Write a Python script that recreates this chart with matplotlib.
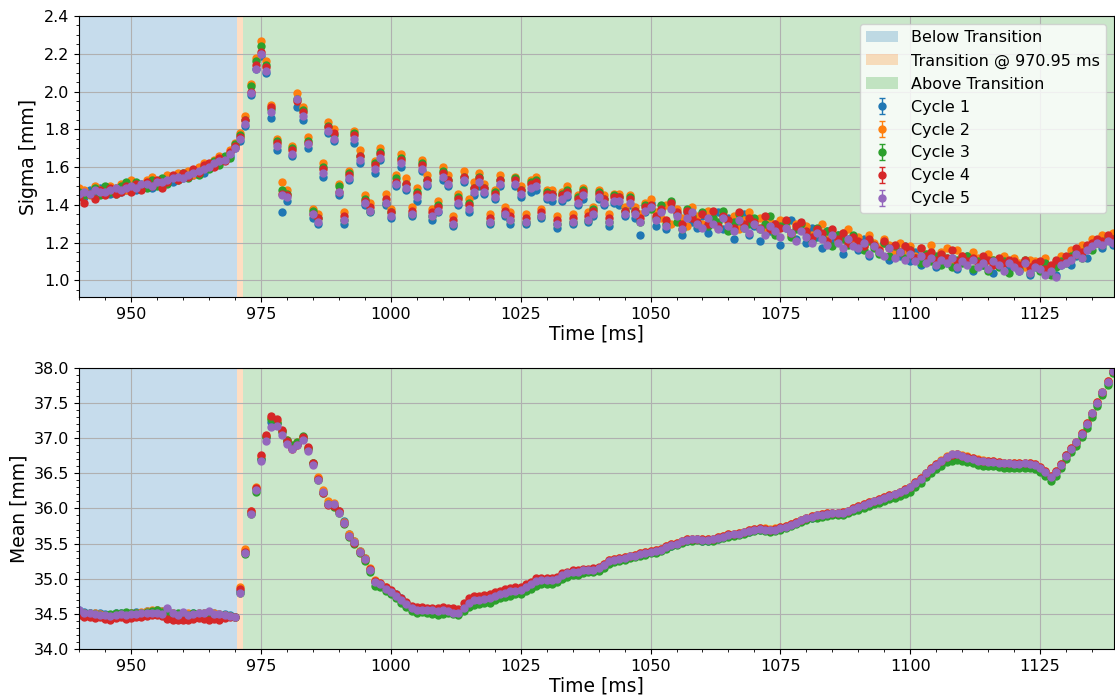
import numpy as np
import matplotlib.pyplot as plt
from matplotlib.ticker import MultipleLocator, AutoMinorLocator

# sample times [ms], one per ms
time_ms = np.arange(940.0, 1140.0, 1.0)
transition_ms = 970.95

cycle_labels = ["Cycle 1", "Cycle 2", "Cycle 3", "Cycle 4", "Cycle 5"]
sigma_err = 0.01
mean_err = 0.02

# Sigma [mm] per cycle
sigma_c1 = [
    1.45, 1.44, 1.48, 1.46, 1.49, 1.47, 1.46, 1.49, 1.47, 1.48,
    1.49, 1.48, 1.51, 1.50, 1.49, 1.51, 1.53, 1.52, 1.52, 1.54,
    1.54, 1.55, 1.56, 1.58, 1.57, 1.60, 1.61, 1.62, 1.64, 1.66,
    1.70, 1.74, 1.82, 1.98, 2.12, 2.19, 2.10, 1.86, 1.69, 1.36,
    1.42, 1.66, 1.92, 1.85, 1.70, 1.33, 1.30, 1.55, 1.78, 1.74,
    1.45, 1.30, 1.53, 1.73, 1.62, 1.40, 1.36, 1.57, 1.64, 1.40,
    1.33, 1.50, 1.60, 1.48, 1.34, 1.42, 1.58, 1.50, 1.32, 1.36,
    1.53, 1.50, 1.29, 1.40, 1.52, 1.36, 1.45, 1.50, 1.46, 1.30,
    1.43, 1.50, 1.34, 1.30, 1.50, 1.44, 1.30, 1.47, 1.48, 1.33,
    1.43, 1.42, 1.28, 1.42, 1.44, 1.30, 1.40, 1.43, 1.31, 1.34,
    1.43, 1.40, 1.29, 1.41, 1.40, 1.34, 1.40, 1.33, 1.24, 1.36,
    1.41, 1.29, 1.37, 1.27, 1.39, 1.35, 1.24, 1.36, 1.31, 1.28,
    1.34, 1.25, 1.31, 1.36, 1.27, 1.33, 1.22, 1.30, 1.35, 1.24,
    1.29, 1.21, 1.33, 1.26, 1.30, 1.19, 1.28, 1.32, 1.22, 1.27,
    1.20, 1.28, 1.23, 1.17, 1.26, 1.21, 1.24, 1.14, 1.22, 1.19,
    1.16, 1.22, 1.13, 1.19, 1.15, 1.20, 1.11, 1.17, 1.13, 1.18,
    1.10, 1.15, 1.08, 1.13, 1.11, 1.07, 1.14, 1.09, 1.12, 1.06,
    1.10, 1.13, 1.05, 1.11, 1.08, 1.12, 1.04, 1.09, 1.11, 1.06,
    1.08, 1.05, 1.10, 1.03, 1.07, 1.09, 1.04, 1.06, 1.03, 1.08,
    1.10, 1.08, 1.13, 1.15, 1.12, 1.18, 1.20, 1.17, 1.22, 1.19,
]
sigma_c2 = [
    1.49, 1.48, 1.45, 1.50, 1.48, 1.46, 1.50, 1.49, 1.51, 1.48,
    1.53, 1.51, 1.49, 1.53, 1.55, 1.52, 1.51, 1.56, 1.55, 1.57,
    1.56, 1.58, 1.56, 1.60, 1.62, 1.60, 1.64, 1.66, 1.64, 1.69,
    1.73, 1.78, 1.87, 2.04, 2.18, 2.27, 2.16, 1.93, 1.75, 1.52,
    1.48, 1.71, 1.99, 1.92, 1.76, 1.38, 1.35, 1.62, 1.84, 1.80,
    1.51, 1.36, 1.58, 1.79, 1.69, 1.45, 1.41, 1.63, 1.70, 1.46,
    1.38, 1.56, 1.67, 1.54, 1.39, 1.49, 1.64, 1.56, 1.38, 1.42,
    1.60, 1.56, 1.34, 1.46, 1.58, 1.43, 1.52, 1.57, 1.51, 1.35,
    1.48, 1.56, 1.39, 1.36, 1.55, 1.50, 1.35, 1.53, 1.55, 1.38,
    1.48, 1.48, 1.34, 1.47, 1.50, 1.35, 1.45, 1.49, 1.36, 1.39,
    1.48, 1.45, 1.35, 1.46, 1.46, 1.39, 1.45, 1.39, 1.35, 1.41,
    1.43, 1.36, 1.33, 1.40, 1.30, 1.38, 1.33, 1.29, 1.39, 1.34,
    1.30, 1.37, 1.33, 1.28, 1.36, 1.31, 1.34, 1.27, 1.32, 1.36,
    1.30, 1.33, 1.27, 1.31, 1.25, 1.32, 1.29, 1.24, 1.30, 1.27,
    1.29, 1.24, 1.27, 1.30, 1.22, 1.26, 1.21, 1.25, 1.27, 1.20,
    1.23, 1.18, 1.24, 1.20, 1.17, 1.22, 1.19, 1.15, 1.20, 1.16,
    1.18, 1.13, 1.17, 1.14, 1.19, 1.12, 1.15, 1.17, 1.11, 1.16,
    1.13, 1.10, 1.15, 1.12, 1.09, 1.14, 1.11, 1.08, 1.13, 1.10,
    1.12, 1.09, 1.07, 1.11, 1.10, 1.08, 1.12, 1.07, 1.10, 1.13,
    1.12, 1.16, 1.14, 1.19, 1.18, 1.22, 1.20, 1.24, 1.23, 1.25,
]
sigma_c3 = [
    1.47, 1.45, 1.46, 1.49, 1.45, 1.50, 1.47, 1.46, 1.50, 1.52,
    1.48, 1.52, 1.49, 1.49, 1.53, 1.50, 1.54, 1.51, 1.55, 1.53,
    1.57, 1.54, 1.58, 1.56, 1.60, 1.59, 1.63, 1.61, 1.66, 1.65,
    1.72, 1.77, 1.85, 2.03, 2.16, 2.24, 2.14, 1.91, 1.74, 1.48,
    1.46, 1.70, 1.96, 1.90, 1.74, 1.37, 1.33, 1.60, 1.82, 1.77,
    1.50, 1.32, 1.57, 1.78, 1.66, 1.43, 1.37, 1.62, 1.68, 1.41,
    1.36, 1.54, 1.65, 1.51, 1.35, 1.47, 1.62, 1.53, 1.34, 1.40,
    1.58, 1.53, 1.30, 1.44, 1.55, 1.41, 1.49, 1.55, 1.49, 1.31,
    1.47, 1.53, 1.35, 1.32, 1.54, 1.48, 1.31, 1.52, 1.53, 1.34,
    1.47, 1.46, 1.30, 1.46, 1.48, 1.31, 1.44, 1.48, 1.32, 1.38,
    1.47, 1.43, 1.31, 1.45, 1.44, 1.37, 1.44, 1.37, 1.31, 1.40,
    1.38, 1.33, 1.40, 1.30, 1.42, 1.31, 1.27, 1.38, 1.34, 1.30,
    1.36, 1.29, 1.33, 1.31, 1.37, 1.26, 1.31, 1.35, 1.28, 1.30,
    1.33, 1.27, 1.30, 1.34, 1.24, 1.29, 1.31, 1.23, 1.27, 1.30,
    1.25, 1.21, 1.28, 1.23, 1.26, 1.18, 1.24, 1.22, 1.19, 1.24,
    1.19, 1.16, 1.21, 1.17, 1.14, 1.20, 1.13, 1.18, 1.15, 1.12,
    1.16, 1.12, 1.09, 1.14, 1.10, 1.13, 1.08, 1.12, 1.07, 1.11,
    1.09, 1.13, 1.06, 1.10, 1.08, 1.05, 1.11, 1.07, 1.10, 1.04,
    1.09, 1.06, 1.11, 1.04, 1.08, 1.05, 1.09, 1.03, 1.07, 1.10,
    1.09, 1.13, 1.15, 1.12, 1.18, 1.16, 1.21, 1.19, 1.23, 1.22,
]
sigma_c4 = [
    1.44, 1.41, 1.46, 1.43, 1.48, 1.45, 1.49, 1.46, 1.47, 1.50,
    1.47, 1.51, 1.48, 1.52, 1.50, 1.53, 1.49, 1.52, 1.56, 1.53,
    1.57, 1.55, 1.59, 1.57, 1.61, 1.62, 1.60, 1.65, 1.63, 1.68,
    1.71, 1.76, 1.85, 2.00, 2.14, 2.21, 2.13, 1.92, 1.73, 1.46,
    1.45, 1.69, 1.95, 1.89, 1.73, 1.35, 1.33, 1.59, 1.81, 1.78,
    1.47, 1.34, 1.56, 1.77, 1.66, 1.42, 1.39, 1.61, 1.67, 1.43,
    1.36, 1.52, 1.64, 1.51, 1.37, 1.46, 1.61, 1.53, 1.36, 1.39,
    1.57, 1.53, 1.32, 1.43, 1.55, 1.40, 1.49, 1.54, 1.49, 1.33,
    1.46, 1.53, 1.37, 1.34, 1.53, 1.48, 1.33, 1.51, 1.52, 1.36,
    1.46, 1.46, 1.32, 1.45, 1.47, 1.33, 1.43, 1.47, 1.34, 1.37,
    1.46, 1.43, 1.33, 1.44, 1.44, 1.37, 1.43, 1.37, 1.33, 1.39,
    1.40, 1.34, 1.38, 1.32, 1.41, 1.36, 1.30, 1.37, 1.33, 1.31,
    1.35, 1.30, 1.37, 1.29, 1.34, 1.32, 1.28, 1.36, 1.30, 1.33,
    1.31, 1.28, 1.34, 1.27, 1.30, 1.28, 1.32, 1.25, 1.29, 1.31,
    1.26, 1.23, 1.27, 1.25, 1.21, 1.27, 1.22, 1.25, 1.20, 1.23,
    1.21, 1.18, 1.22, 1.19, 1.16, 1.21, 1.17, 1.19, 1.15, 1.18,
    1.16, 1.12, 1.17, 1.13, 1.15, 1.11, 1.14, 1.12, 1.16, 1.10,
    1.13, 1.10, 1.12, 1.09, 1.13, 1.11, 1.08, 1.12, 1.09, 1.11,
    1.10, 1.08, 1.11, 1.07, 1.09, 1.10, 1.06, 1.08, 1.11, 1.09,
    1.13, 1.12, 1.17, 1.15, 1.19, 1.20, 1.22, 1.21, 1.24, 1.22,
]
sigma_c5 = [
    1.46, 1.47, 1.46, 1.48, 1.47, 1.47, 1.48, 1.49, 1.48, 1.49,
    1.50, 1.49, 1.51, 1.51, 1.50, 1.52, 1.52, 1.53, 1.54, 1.55,
    1.54, 1.56, 1.57, 1.58, 1.59, 1.60, 1.62, 1.63, 1.64, 1.67,
    1.70, 1.75, 1.83, 1.99, 2.12, 2.20, 2.11, 1.89, 1.71, 1.45,
    1.44, 1.67, 1.96, 1.87, 1.72, 1.35, 1.31, 1.57, 1.79, 1.75,
    1.47, 1.32, 1.54, 1.75, 1.64, 1.41, 1.37, 1.59, 1.65, 1.41,
    1.34, 1.51, 1.62, 1.49, 1.35, 1.44, 1.59, 1.51, 1.34, 1.37,
    1.55, 1.51, 1.30, 1.41, 1.53, 1.38, 1.47, 1.52, 1.47, 1.31,
    1.44, 1.51, 1.35, 1.32, 1.51, 1.46, 1.31, 1.49, 1.50, 1.34,
    1.44, 1.44, 1.30, 1.43, 1.45, 1.31, 1.41, 1.45, 1.32, 1.35,
    1.44, 1.41, 1.31, 1.42, 1.42, 1.35, 1.41, 1.35, 1.31, 1.37,
    1.39, 1.32, 1.36, 1.29, 1.38, 1.34, 1.27, 1.33, 1.36, 1.30,
    1.28, 1.33, 1.30, 1.27, 1.33, 1.29, 1.26, 1.32, 1.28, 1.25,
    1.30, 1.27, 1.24, 1.29, 1.26, 1.23, 1.28, 1.25, 1.21, 1.26,
    1.23, 1.20, 1.25, 1.22, 1.19, 1.24, 1.20, 1.17, 1.22, 1.18,
    1.17, 1.20, 1.14, 1.18, 1.15, 1.13, 1.17, 1.12, 1.15, 1.11,
    1.14, 1.10, 1.13, 1.09, 1.12, 1.08, 1.11, 1.09, 1.12, 1.07,
    1.10, 1.08, 1.11, 1.07, 1.09, 1.06, 1.10, 1.08, 1.05, 1.09,
    1.07, 1.05, 1.09, 1.04, 1.07, 1.06, 1.03, 1.05, 1.02, 1.08,
    1.09, 1.11, 1.14, 1.12, 1.16, 1.18, 1.20, 1.19, 1.21, 1.20,
]

# Mean [mm] per cycle
mean_c1 = [
    34.55, 34.53, 34.52, 34.51, 34.52, 34.50, 34.49, 34.51, 34.52, 34.50,
    34.52, 34.53, 34.52, 34.54, 34.53, 34.55, 34.54, 34.55, 34.52, 34.50,
    34.51, 34.50, 34.52, 34.51, 34.52, 34.53, 34.51, 34.50, 34.50, 34.49,
    34.46, 34.83, 35.40, 35.93, 36.27, 36.70, 37.02, 37.23, 37.21, 37.09,
    36.96, 36.86, 36.92, 36.99, 36.85, 36.64, 36.43, 36.23, 36.06, 36.04,
    35.96, 35.82, 35.63, 35.53, 35.39, 35.29, 35.12, 34.95, 34.91, 34.87,
    34.83, 34.78, 34.72, 34.65, 34.59, 34.57, 34.55, 34.56, 34.54, 34.53,
    34.54, 34.53, 34.51, 34.50, 34.58, 34.65, 34.69, 34.68, 34.70, 34.71,
    34.75, 34.77, 34.78, 34.81, 34.82, 34.83, 34.87, 34.90, 34.96, 34.97,
    34.98, 34.97, 34.99, 35.04, 35.07, 35.09, 35.10, 35.11, 35.11, 35.13,
    35.14, 35.19, 35.24, 35.26, 35.28, 35.29, 35.31, 35.33, 35.34, 35.36,
    35.38, 35.39, 35.41, 35.44, 35.47, 35.50, 35.52, 35.54, 35.55, 35.56,
    35.54, 35.53, 35.55, 35.57, 35.59, 35.61, 35.62, 35.63, 35.65, 35.67,
    35.69, 35.70, 35.69, 35.68, 35.69, 35.71, 35.73, 35.76, 35.79, 35.82,
    35.85, 35.87, 35.89, 35.90, 35.91, 35.92, 35.92, 35.93, 35.95, 35.98,
    36.01, 36.04, 36.07, 36.09, 36.11, 36.14, 36.17, 36.19, 36.22, 36.25,
    36.29, 36.35, 36.41, 36.49, 36.55, 36.61, 36.66, 36.70, 36.74, 36.75,
    36.73, 36.71, 36.69, 36.67, 36.66, 36.65, 36.65, 36.64, 36.63, 36.63,
    36.62, 36.62, 36.63, 36.62, 36.61, 36.57, 36.51, 36.45, 36.52, 36.63,
    36.76, 36.84, 36.93, 37.05, 37.19, 37.34, 37.49, 37.64, 37.79, 37.94,
]
mean_c2 = [
    34.50, 34.52, 34.49, 34.51, 34.50, 34.47, 34.49, 34.50, 34.48, 34.51,
    34.51, 34.52, 34.53, 34.54, 34.55, 34.56, 34.54, 34.52, 34.51, 34.50,
    34.50, 34.51, 34.49, 34.51, 34.52, 34.52, 34.51, 34.50, 34.49, 34.47,
    34.46, 34.88, 35.42, 35.97, 36.30, 36.74, 37.03, 37.28, 37.24, 37.10,
    36.97, 36.89, 36.95, 37.01, 36.85, 36.65, 36.44, 36.26, 36.11, 36.08,
    35.97, 35.81, 35.64, 35.54, 35.40, 35.30, 35.15, 34.98, 34.94, 34.88,
    34.83, 34.77, 34.70, 34.63, 34.58, 34.56, 34.56, 34.55, 34.56, 34.55,
    34.56, 34.55, 34.55, 34.53, 34.60, 34.65, 34.69, 34.69, 34.70, 34.71,
    34.75, 34.76, 34.79, 34.80, 34.81, 34.82, 34.86, 34.90, 34.95, 34.97,
    34.97, 34.98, 35.00, 35.05, 35.08, 35.10, 35.11, 35.13, 35.13, 35.14,
    35.16, 35.21, 35.26, 35.28, 35.29, 35.31, 35.33, 35.34, 35.36, 35.38,
    35.39, 35.41, 35.42, 35.46, 35.49, 35.51, 35.54, 35.56, 35.57, 35.57,
    35.56, 35.56, 35.57, 35.59, 35.61, 35.63, 35.64, 35.65, 35.67, 35.69,
    35.71, 35.72, 35.72, 35.71, 35.72, 35.73, 35.75, 35.78, 35.81, 35.84,
    35.87, 35.89, 35.91, 35.92, 35.93, 35.94, 35.94, 35.95, 35.97, 36.00,
    36.03, 36.06, 36.09, 36.11, 36.13, 36.16, 36.19, 36.21, 36.24, 36.27,
    36.31, 36.37, 36.43, 36.51, 36.57, 36.63, 36.69, 36.74, 36.77, 36.78,
    36.76, 36.74, 36.72, 36.70, 36.69, 36.68, 36.67, 36.66, 36.65, 36.65,
    36.64, 36.64, 36.65, 36.64, 36.63, 36.59, 36.53, 36.46, 36.53, 36.63,
    36.76, 36.86, 36.95, 37.07, 37.21, 37.36, 37.51, 37.66, 37.81, 37.96,
]
mean_c3 = [
    34.53, 34.51, 34.52, 34.50, 34.48, 34.49, 34.50, 34.52, 34.51, 34.53,
    34.52, 34.51, 34.52, 34.53, 34.54, 34.55, 34.53, 34.52, 34.50, 34.51,
    34.49, 34.48, 34.51, 34.50, 34.49, 34.47, 34.46, 34.45, 34.46, 34.47,
    34.45, 34.80, 35.35, 35.92, 36.24, 36.70, 37.02, 37.27, 37.22, 37.10,
    36.97, 36.90, 36.95, 37.03, 36.86, 36.64, 36.41, 36.22, 36.07, 36.02,
    35.93, 35.78, 35.60, 35.50, 35.36, 35.25, 35.10, 34.90, 34.88, 34.82,
    34.79, 34.72, 34.66, 34.60, 34.54, 34.52, 34.53, 34.51, 34.50, 34.49,
    34.50, 34.51, 34.50, 34.49, 34.54, 34.60, 34.63, 34.64, 34.65, 34.66,
    34.70, 34.72, 34.74, 34.76, 34.78, 34.79, 34.82, 34.86, 34.90, 34.92,
    34.93, 34.93, 34.95, 35.00, 35.03, 35.05, 35.06, 35.08, 35.09, 35.10,
    35.11, 35.16, 35.21, 35.24, 35.25, 35.27, 35.29, 35.31, 35.32, 35.34,
    35.36, 35.37, 35.39, 35.42, 35.46, 35.48, 35.51, 35.53, 35.54, 35.55,
    35.53, 35.53, 35.54, 35.56, 35.58, 35.60, 35.61, 35.62, 35.64, 35.66,
    35.68, 35.69, 35.68, 35.67, 35.68, 35.70, 35.72, 35.75, 35.78, 35.81,
    35.84, 35.86, 35.87, 35.88, 35.89, 35.90, 35.90, 35.91, 35.93, 35.96,
    35.98, 36.01, 36.04, 36.06, 36.08, 36.10, 36.13, 36.15, 36.18, 36.21,
    36.24, 36.30, 36.36, 36.44, 36.50, 36.56, 36.61, 36.66, 36.68, 36.69,
    36.68, 36.66, 36.64, 36.62, 36.61, 36.60, 36.60, 36.59, 36.58, 36.58,
    36.57, 36.57, 36.58, 36.57, 36.56, 36.52, 36.46, 36.39, 36.46, 36.57,
    36.70, 36.80, 36.89, 37.01, 37.15, 37.30, 37.45, 37.61, 37.76, 37.92,
]
mean_c4 = [
    34.48, 34.46, 34.45, 34.44, 34.45, 34.43, 34.42, 34.44, 34.45, 34.43,
    34.44, 34.46, 34.45, 34.47, 34.48, 34.49, 34.47, 34.43, 34.42, 34.41,
    34.42, 34.41, 34.43, 34.44, 34.43, 34.42, 34.43, 34.42, 34.44, 34.45,
    34.46, 34.86, 35.38, 35.97, 36.29, 36.76, 37.05, 37.32, 37.27, 37.12,
    36.96, 36.84, 36.90, 37.02, 36.87, 36.64, 36.42, 36.22, 36.05, 36.03,
    35.96, 35.80, 35.61, 35.51, 35.38, 35.28, 35.14, 34.97, 34.94, 34.88,
    34.84, 34.79, 34.73, 34.67, 34.62, 34.60, 34.60, 34.59, 34.59, 34.58,
    34.60, 34.59, 34.58, 34.57, 34.66, 34.72, 34.76, 34.76, 34.77, 34.78,
    34.81, 34.83, 34.85, 34.87, 34.88, 34.88, 34.92, 34.96, 35.01, 35.01,
    35.01, 35.01, 35.03, 35.08, 35.10, 35.12, 35.12, 35.14, 35.14, 35.15,
    35.17, 35.21, 35.26, 35.28, 35.29, 35.31, 35.33, 35.34, 35.36, 35.38,
    35.39, 35.41, 35.42, 35.46, 35.49, 35.51, 35.54, 35.56, 35.57, 35.57,
    35.56, 35.56, 35.57, 35.59, 35.61, 35.63, 35.64, 35.65, 35.67, 35.69,
    35.71, 35.72, 35.71, 35.70, 35.71, 35.73, 35.75, 35.78, 35.81, 35.84,
    35.87, 35.89, 35.91, 35.92, 35.93, 35.94, 35.94, 35.95, 35.97, 36.00,
    36.03, 36.06, 36.09, 36.11, 36.13, 36.16, 36.19, 36.21, 36.24, 36.27,
    36.31, 36.37, 36.43, 36.51, 36.57, 36.63, 36.68, 36.73, 36.76, 36.77,
    36.75, 36.73, 36.71, 36.69, 36.68, 36.67, 36.67, 36.66, 36.65, 36.65,
    36.64, 36.64, 36.65, 36.64, 36.63, 36.59, 36.53, 36.46, 36.53, 36.63,
    36.76, 36.86, 36.95, 37.07, 37.21, 37.36, 37.51, 37.66, 37.81, 37.96,
]
mean_c5 = [
    34.55, 34.52, 34.51, 34.50, 34.49, 34.48, 34.47, 34.49, 34.50, 34.49,
    34.50, 34.50, 34.51, 34.52, 34.51, 34.52, 34.50, 34.58, 34.51, 34.48,
    34.53, 34.49, 34.50, 34.51, 34.52, 34.54, 34.50, 34.50, 34.48, 34.47,
    34.45, 34.80, 35.36, 35.92, 36.26, 36.68, 36.96, 37.16, 37.17, 37.05,
    36.92, 36.84, 36.90, 36.97, 36.82, 36.62, 36.40, 36.23, 36.07, 36.06,
    35.94, 35.79, 35.61, 35.52, 35.38, 35.28, 35.13, 34.96, 34.92, 34.86,
    34.81, 34.76, 34.70, 34.64, 34.58, 34.56, 34.56, 34.55, 34.55, 34.54,
    34.55, 34.54, 34.52, 34.51, 34.59, 34.66, 34.70, 34.70, 34.71, 34.72,
    34.76, 34.78, 34.80, 34.82, 34.83, 34.84, 34.88, 34.92, 34.97, 34.98,
    34.98, 34.98, 35.00, 35.05, 35.08, 35.10, 35.10, 35.12, 35.12, 35.13,
    35.15, 35.20, 35.25, 35.27, 35.28, 35.30, 35.32, 35.33, 35.35, 35.37,
    35.38, 35.40, 35.41, 35.45, 35.48, 35.50, 35.53, 35.55, 35.56, 35.56,
    35.55, 35.55, 35.56, 35.58, 35.60, 35.62, 35.63, 35.64, 35.66, 35.68,
    35.70, 35.71, 35.70, 35.69, 35.70, 35.72, 35.74, 35.77, 35.80, 35.83,
    35.86, 35.88, 35.90, 35.91, 35.92, 35.93, 35.93, 35.94, 35.96, 35.99,
    36.02, 36.05, 36.08, 36.10, 36.12, 36.15, 36.18, 36.20, 36.23, 36.26,
    36.30, 36.36, 36.42, 36.50, 36.56, 36.62, 36.68, 36.73, 36.77, 36.78,
    36.75, 36.72, 36.70, 36.68, 36.67, 36.66, 36.66, 36.65, 36.64, 36.64,
    36.63, 36.63, 36.64, 36.63, 36.62, 36.58, 36.52, 36.45, 36.52, 36.62,
    36.75, 36.85, 36.94, 37.06, 37.20, 37.35, 37.50, 37.65, 37.80, 37.95,
]

sigma_cycles = [sigma_c1, sigma_c2, sigma_c3, sigma_c4, sigma_c5]
mean_cycles = [mean_c1, mean_c2, mean_c3, mean_c4, mean_c5]

fig, (ax1, ax2) = plt.subplots(2, 1, figsize=(11.15, 6.95), dpi=100)
fig.subplots_adjust(left=0.071, right=0.999, top=0.977, bottom=0.066, hspace=0.25)


def draw_panel(ax, cycles, err, ylabel):
    t0, t1 = time_ms[0], time_ms[-1]
    ax.axvspan(t0, transition_ms - 0.5, color="C0", alpha=0.25, lw=0, label="Below Transition")
    ax.axvspan(transition_ms - 0.5, transition_ms + 0.5, color="C1", alpha=0.25, lw=0,
               label="Transition @ %.2f ms" % transition_ms)
    ax.axvspan(transition_ms + 0.5, t1 + 1, color="C2", alpha=0.25, lw=0, label="Above Transition")
    for k, vals in enumerate(cycles):
        ax.errorbar(time_ms, vals, yerr=err, fmt="o", color="C%d" % k, markersize=5,
                    elinewidth=1, capsize=2, label=cycle_labels[k])
    ax.set_xlim(t0, t1 + 0.2)
    ax.xaxis.set_major_locator(MultipleLocator(25))
    ax.xaxis.set_minor_locator(AutoMinorLocator())
    ax.yaxis.set_minor_locator(AutoMinorLocator())
    ax.grid(True, which="major")
    ax.set_xlabel("Time [ms]", fontsize=13.5, labelpad=2)
    ax.set_ylabel(ylabel, fontsize=13.5)
    ax.tick_params(labelsize=11.5)


draw_panel(ax1, sigma_cycles, sigma_err, "Sigma [mm]")
ax1.set_ylim(0.91, 2.4)
ax1.yaxis.set_major_locator(MultipleLocator(0.2))
ax1.legend(loc="upper right", fontsize=11.5)

draw_panel(ax2, mean_cycles, mean_err, "Mean [mm]")
ax2.set_ylim(34.0, 38.0)
ax2.yaxis.set_major_locator(MultipleLocator(0.5))

fig.savefig("out.png", dpi=100)
